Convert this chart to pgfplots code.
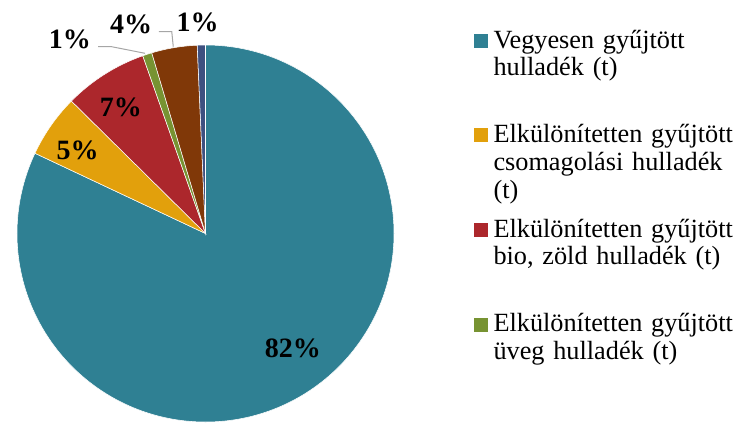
\documentclass[border=0pt]{standalone}
\usepackage{fontspec}
\setmainfont{Liberation Serif}
\usepackage{pgfplots}
\usepackage{pgfplotstable}
\pgfplotsset{compat=1.18}
\definecolor{cTeal}{RGB}{47,128,147}
\definecolor{cGold}{RGB}{226,160,12}
\definecolor{cRed}{RGB}{172,39,44}
\definecolor{cGreen}{RGB}{119,147,50}
\definecolor{cBrown}{RGB}{128,56,8}
\definecolor{cBlue}{RGB}{62,80,128}
\definecolor{cLeader}{RGB}{166,166,166}
\pgfplotstableread{
value color
82.0 cTeal
5.4 cGold
7.2 cRed
0.8 cGreen
3.9 cBrown
0.7 cBlue
}\piedata
\pgfplotsset{sqleg/.style={legend image code/.code={\fill[#1] (0pt,0.75pt) rectangle (9.75pt,10.5pt);}}}
\tikzset{lbl/.style={anchor=base, inner sep=0pt, font=\fontsize{21}{25}\selectfont\bfseries}}
\begin{document}
\begin{tikzpicture}
\begin{axis}[
  at={(12.75pt,3pt)}, anchor=south west,
  scale only axis, width=282.75pt, height=282.75pt,
  xmin=-1, xmax=1, ymin=-1, ymax=1,
  hide axis, clip=false,
  legend style={at={(axis description cs:1.2122,1.0451)}, anchor=north west,
    draw=none, fill=none, inner sep=0pt, outer sep=0pt, row sep=0pt, column sep=4.5pt,
    cells={anchor=base west},
    nodes={inner sep=0pt, outer sep=0pt, text width=190pt, align=left,
      text height=15pt, text depth=55.95pt, font=\fontsize{19.7}{20.8}\selectfont}},
]
\def\cumval{0}
\pgfplotsforeachungrouped \i in {0,...,5}{%
  \pgfplotstablegetelem{\i}{value}\of\piedata \let\sliceval\pgfplotsretval
  \pgfplotstablegetelem{\i}{color}\of\piedata \let\slicecol\pgfplotsretval
  \pgfmathsetmacro\angA{90-3.6*\cumval}%
  \pgfmathsetmacro\angB{90-3.6*(\cumval+\sliceval)}%
  \pgfmathsetmacro\cosA{cos(\angA)}%
  \pgfmathsetmacro\sinA{sin(\angA)}%
  \edef\tmp{\noexpand\fill[\slicecol, draw=white, line width=0.4pt] (axis cs:0,0) -- (axis cs:\cosA,\sinA) arc[start angle=\angA, end angle=\angB, radius=141.375pt] -- cycle;}%
  \tmp
  \pgfmathsetmacro\cumval{\cumval+\sliceval}%
}
\addlegendimage{sqleg=cTeal}\addlegendentry{Vegyesen gyűjtött\\hulladék (t)}
\addlegendimage{sqleg=cGold}\addlegendentry{Elkülönítetten gyűjtött\\csomagolási hulladék\\(t)}
\addlegendimage{sqleg=cRed}\addlegendentry{Elkülönítetten gyűjtött\\bio, zöld hulladék (t)}
\addlegendimage{sqleg=cGreen}\addlegendentry{Elkülönítetten gyűjtött\\üveg hulladék (t)}
\draw[cLeader, line width=0.75pt] (axis cs:-0.569,0.991) -- (axis cs:-0.498,0.991) -- (axis cs:-0.321,0.956);
\draw[cLeader, line width=0.75pt] (axis cs:-0.247,1.071) -- (axis cs:-0.179,1.071) -- (axis cs:-0.171,0.991);
\node[lbl] at (axis cs:0.463,-0.657) {82\%};
\node[lbl] at (axis cs:-0.679,0.390) {5\%};
\node[lbl] at (axis cs:-0.449,0.620) {7\%};
\node[lbl] at (axis cs:-0.719,0.982) {1\%};
\node[lbl] at (axis cs:-0.395,1.062) {4\%};
\node[lbl] at (axis cs:-0.042,1.071) {1\%};
\end{axis}
\pgfresetboundingbox
\path[use as bounding box] (0,0) rectangle (555.75pt,319.5pt);
\end{tikzpicture}
\end{document}
